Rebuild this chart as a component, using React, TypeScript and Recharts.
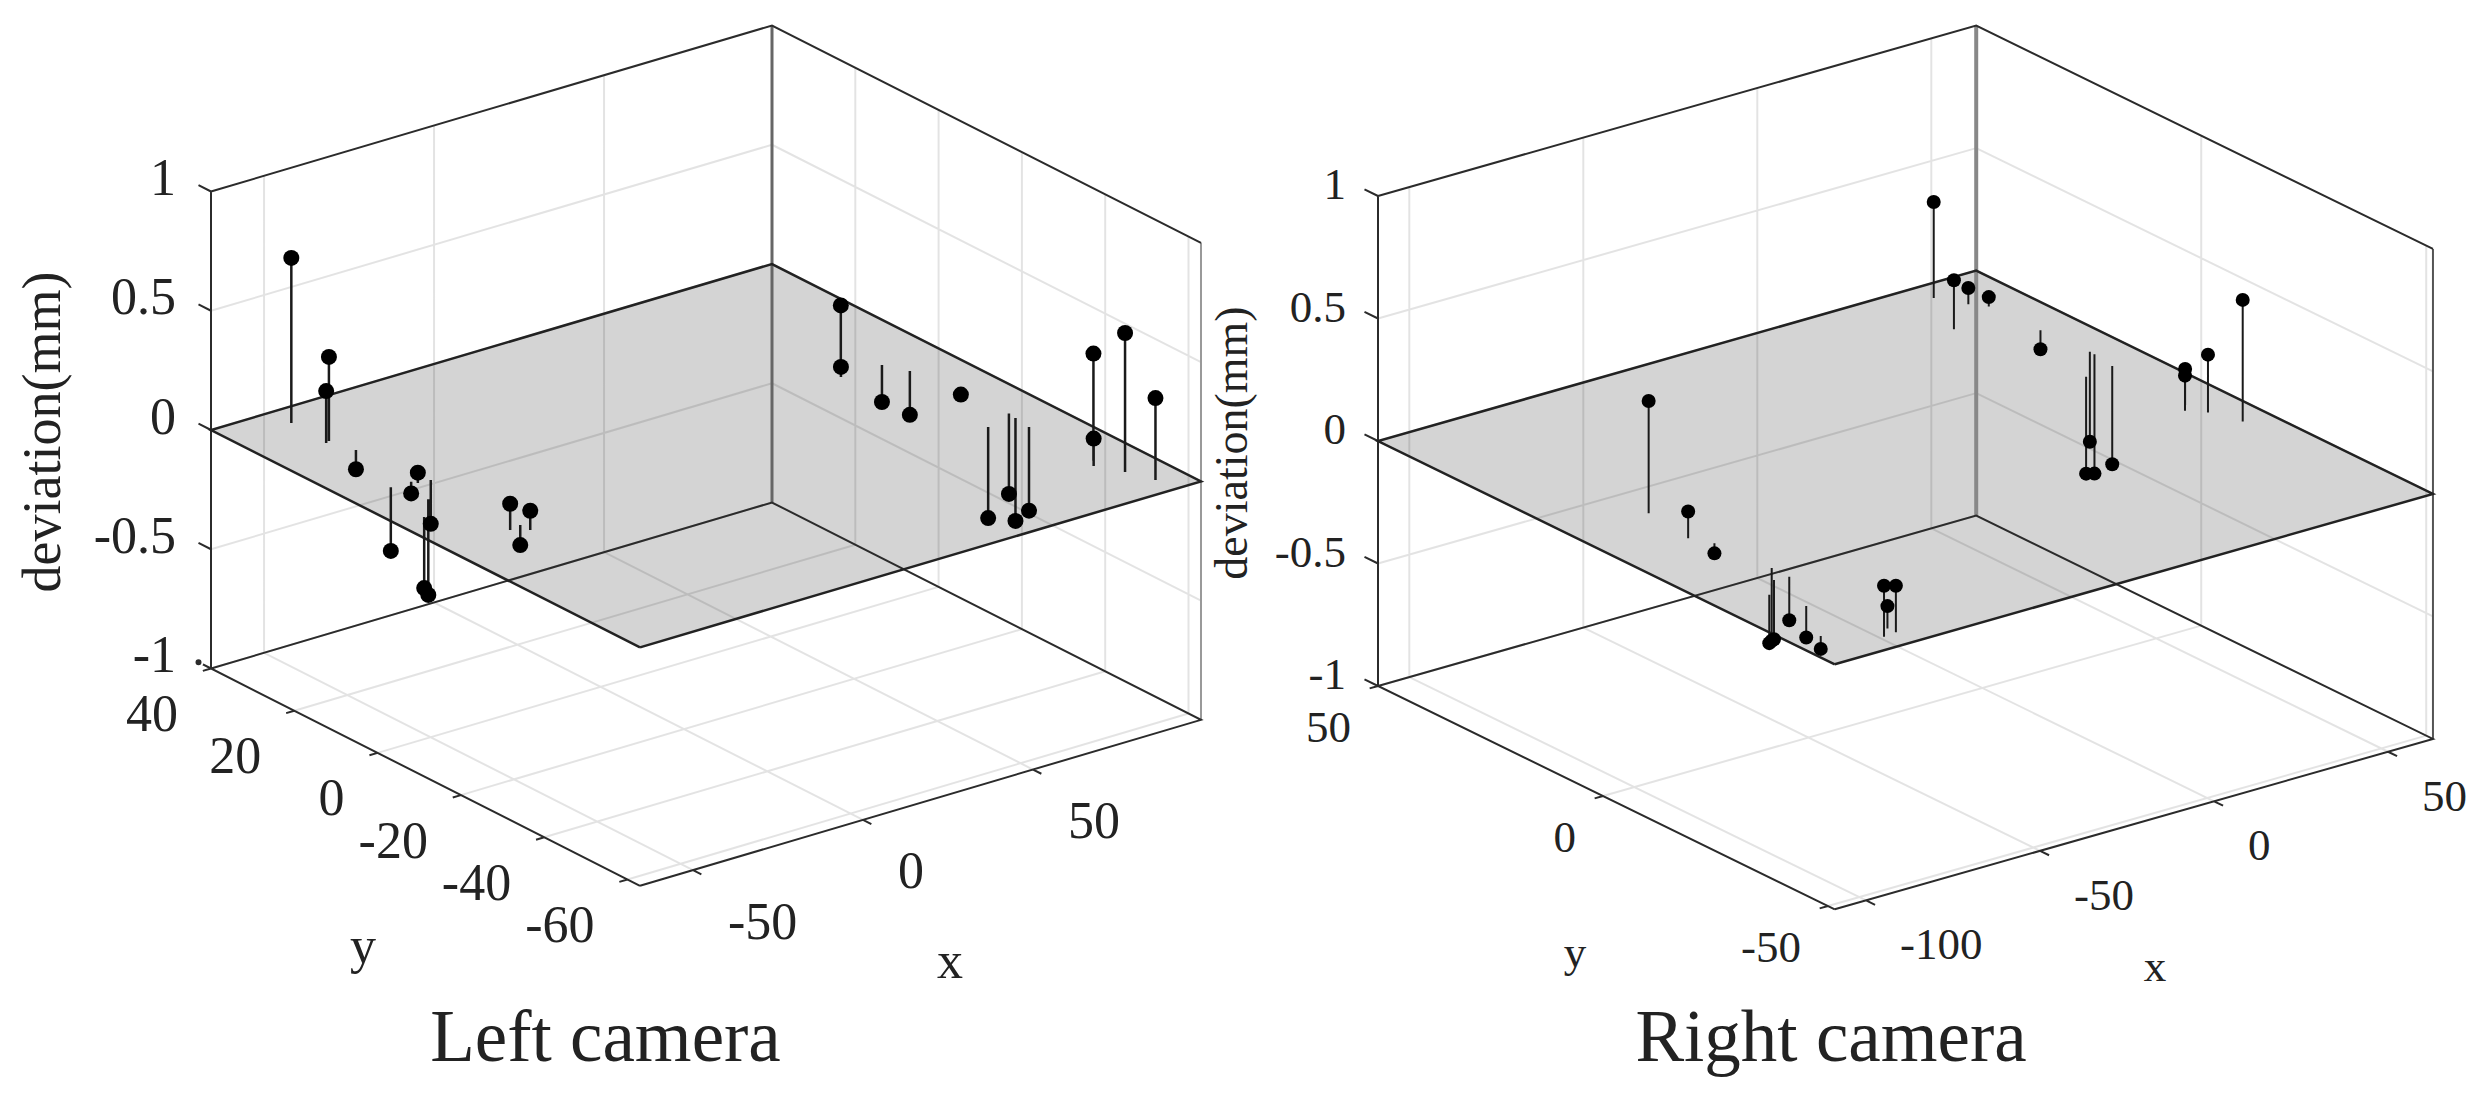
import { ComposedChart, Area, Line, XAxis, YAxis, ReferenceDot } from 'recharts';

const WIDTH = 2486;
const HEIGHT = 1105;
const FONT = '"Liberation Serif", "Times New Roman", serif';

const zTicks = [-1, -0.5, 0, 0.5, 1];

const leftXTicks = [-50, 0, 50];
const leftYTicks = [40, 20, 0, -20, -40, -60];
const leftX = [-48.1, -47.7, -49, -46, -46.6, -47.4, -53.2, -43.1, -57.9, -50.65, -46.7, -43, -43, 72.6, 70.8, 82.8, 85.8, 86.1, 79.8, 88.6, 88.2, 87.4, 87, 85.1, 88.7, 91.4];
const leftY = [35, 26.3, 25.9, 21.2, 5.85, 6.8, 6.95, 5.6, -4.9, 0.03, -16.4, -18.2, -15.8, 1.6, 0.1, 0.05, -4.2, -16.2, -27.9, -25.7, -27.6, -31.5, -47.3, -48.9, -53.5, -58.6];
const leftDev = [0.692, 0.352, 0.218, -0.081, 0.043, -0.049, -0.267, -0.184, -0.298, -0.401, 0.11, 0.081, -0.084, 0.279, 0.042, -0.155, -0.184, 0.006, -0.382, -0.337, -0.432, -0.351, 0.449, 0.115, 0.583, 0.344];

const rightXTicks = [-100, -50, 0, 50];
const rightYTicks = [50, 0, -50];
const rightX = [-86.7, -88.8, -85.9, -95.1, -84.7, -88.7, -84.7, -92.5, -101, -89.8, -86, -86.1, 45, 37.1, 49, 51.9, 52.4, 53.4, 43.4, 53.3, 52.2, 50.9, 48.8, 52.3, 55.3];
const rightY = [7.1, -3.3, -6.9, -26.2, -18.7, -22.3, -22.6, -32.4, -42.2, -47.6, -47.3, -45.5, 45.6, 35, 41, 38.7, 27.6, 17.4, 10.5, 16.3, 11.5, -5.7, -7.3, -9.7, -15.1];
const rightDev = [0.458, 0.109, -0.041, -0.197, -0.297, -0.242, -0.178, -0.129, -0.053, 0.208, 0.19, 0.091, 0.392, 0.2, 0.066, 0.038, -0.077, -0.367, -0.395, -0.487, -0.401, 0.147, 0.143, 0.236, 0.496];

const leftPanel = {
  id: 'left',
  title: 'Left camera',
  xs: leftX, ys: leftY, devs: leftDev, xTicks: leftXTicks, yTicks: leftYTicks,
  xMin: -65.6, xMax: 99.4, yMin: -63, yMax: 40,
  ox: 211, oy: 430, ex: [3.4, -1.006], ey: [4.165, 2.11], zUnit: 238.5,
  tickFont: 52, labelFont: 54, markerR: 8, stemWidth: 2.5,
  zLabelAt: [176, -14], yLabelAt: [-33, 45], xLabelAt: [35, 51],
  devLabel: [60, 432], xName: [950, 978], yName: [363, 963], titleAt: [605.5, 1061],
  backStyle: { stroke: '#666', width: 3 }, rightStyle: { stroke: '#999', width: 2 },
};

const rightPanel = {
  id: 'right',
  title: 'Right camera',
  xs: rightX, ys: rightY, devs: rightDev, xTicks: rightXTicks, yTicks: rightYTicks,
  xMin: -109, xMax: 62.9, yMin: -51.5, yMax: 50,
  ox: 1378, oy: 441, ex: [3.48, -0.991], ey: [4.5, 2.2], zUnit: 245,
  tickFont: 45, labelFont: 46, markerR: 7, stemWidth: 2,
  zLabelAt: [1346, -12], yLabelAt: [-27, 41], xLabelAt: [34, 44],
  devLabel: [1247, 443], xName: [2155, 981], yName: [1575, 967], titleAt: [1831, 1061],
  backStyle: { stroke: '#888', width: 4 }, rightStyle: { stroke: '#555', width: 2 },
};

type Panel = typeof leftPanel;

// orthographic view of the 3d axes box
const project = (p: Panel, x: number, y: number, z: number) => ({
  sx: p.ox + p.ex[0] * (x - p.xMin) + p.ey[0] * (p.yMax - y),
  sy: p.oy + p.ex[1] * (x - p.xMin) + p.ey[1] * (p.yMax - y) - p.zUnit * z,
});

type Pt = { sx: number; sy: number | null };

// several segments in one Line, split by null gaps
const segments = (list: Pt[][]) =>
  list.flatMap((seg) => [...seg, { sx: seg[seg.length - 1].sx, sy: null }]);

const label = (key: string, text: string, sx: number, sy: number, font: number, anchor = 'middle', rotate = false, central = true) => (
  <ReferenceDot
    key={key}
    x={sx}
    y={sy}
    r={0}
    shape={(s: { cx: number; cy: number }) => (
      <text
        x={s.cx}
        y={s.cy}
        fontFamily={FONT}
        fontSize={font}
        fill="#222"
        textAnchor={anchor}
        dominantBaseline={central ? 'central' : 'auto'}
        transform={rotate ? `rotate(-90 ${s.cx} ${s.cy})` : undefined}
      >
        {text}
      </text>
    )}
  />
);

const panelItems = (p: Panel) => {
  const P = (x: number, y: number, z: number) => project(p, x, y, z);
  const { xMin, xMax, yMin, yMax, id } = p;

  // grey z = 0 plane, as upper and lower edge over the horizontal position
  const L = P(xMin, yMax, 0);
  const F = P(xMin, yMin, 0);
  const B = P(xMax, yMax, 0);
  const R = P(xMax, yMin, 0);
  const at = (a: any, b: any, sx: number) => a.sy + ((b.sy - a.sy) * (sx - a.sx)) / (b.sx - a.sx);
  const plane = [
    { sx: L.sx, band: [L.sy, L.sy] },
    { sx: F.sx, band: [at(L, B, F.sx), F.sy] },
    { sx: B.sx, band: [B.sy, at(F, R, B.sx)] },
    { sx: R.sx, band: [R.sy, R.sy] },
  ];

  const grid = segments([
    ...zTicks.filter((z) => Math.abs(z) < 1).flatMap((z) => [
      [P(xMin, yMax, z), P(xMax, yMax, z)],
      [P(xMax, yMax, z), P(xMax, yMin, z)],
    ]),
    ...p.xTicks.flatMap((x) => [
      [P(x, yMax, -1), P(x, yMax, 1)],
      [P(x, yMax, -1), P(x, yMin, -1)],
    ]),
    ...p.yTicks.flatMap((y) => [
      [P(xMax, y, -1), P(xMax, y, 1)],
      [P(xMin, y, -1), P(xMax, y, -1)],
    ]),
  ]);

  const frame = segments([
    [P(xMin, yMax, 1), P(xMax, yMax, 1), P(xMax, yMin, 1)],
    [P(xMin, yMin, -1), P(xMin, yMax, -1), P(xMax, yMax, -1), P(xMax, yMin, -1), P(xMin, yMin, -1)],
    [P(xMin, yMax, -1), P(xMin, yMax, 1)],
    ...zTicks.map((z) => [P(xMin, yMax, z), P(xMin, yMax + 3, z)]),
    ...p.xTicks.map((x) => [P(x, yMin, -1), P(x, yMin - 2, -1)]),
    ...p.yTicks.map((y) => [P(xMin, y, -1), P(xMin - 2.4, y, -1)]),
  ]);

  const planeEdge = [P(xMin, yMin, 0), P(xMin, yMax, 0), P(xMax, yMax, 0), P(xMax, yMin, 0), P(xMin, yMin, 0)];
  const backEdge = [P(xMax, yMax, -1), P(xMax, yMax, 1)];
  const rightEdge = [P(xMax, yMin, -1), P(xMax, yMin, 1)];

  const stems = segments(p.xs.map((x, i) => [P(x, p.ys[i], 0), P(x, p.ys[i], p.devs[i])]));
  const markers = p.xs.map((x, i) => P(x, p.ys[i], p.devs[i]));

  return [
    <Area key={`${id}-plane`} data={plane} dataKey="band" type="linear" fill="#d4d4d4" fillOpacity={1} stroke="none" dot={false} isAnimationActive={false} />,
    <Line key={`${id}-gridlines`} data={grid} dataKey="sy" stroke="#000" strokeOpacity={0.11} strokeWidth={2} dot={false} isAnimationActive={false} />,
    <Line key={`${id}-back`} data={backEdge} dataKey="sy" stroke={p.backStyle.stroke} strokeWidth={p.backStyle.width} dot={false} isAnimationActive={false} />,
    <Line key={`${id}-right`} data={rightEdge} dataKey="sy" stroke={p.rightStyle.stroke} strokeWidth={p.rightStyle.width} dot={false} isAnimationActive={false} />,
    <Line key={`${id}-frame`} data={frame} dataKey="sy" stroke="#2b2b2b" strokeWidth={2} dot={false} isAnimationActive={false} />,
    <Line key={`${id}-plane-edge`} data={planeEdge} dataKey="sy" stroke="#222" strokeWidth={2.5} dot={false} isAnimationActive={false} />,
    <Line key={`${id}-stems`} data={stems} dataKey="sy" stroke="#1a1a1a" strokeWidth={p.stemWidth} dot={false} isAnimationActive={false} />,
    <Line key={`${id}-markers`} data={markers} dataKey="sy" stroke="none" dot={{ r: p.markerR, fill: '#000', stroke: 'none' }} isAnimationActive={false} />,
    ...zTicks.map((z) => label(`${id}-z${z}`, String(z), p.zLabelAt[0], P(xMin, yMax, z).sy + p.zLabelAt[1], p.tickFont, 'end')),
    ...p.yTicks.map((y) => {
      const t = P(xMin, y, -1);
      return label(`${id}-y${y}`, String(y), t.sx + p.yLabelAt[0], t.sy + p.yLabelAt[1], p.tickFont, 'end');
    }),
    ...p.xTicks.map((x) => {
      const t = P(x, yMin, -1);
      return label(`${id}-x${x}`, String(x), t.sx + p.xLabelAt[0], t.sy + p.xLabelAt[1], p.tickFont, 'start');
    }),
    label(`${id}-dev`, 'deviation(mm)', p.devLabel[0], p.devLabel[1], p.labelFont, 'middle', true, false),
    label(`${id}-xname`, 'x', p.xName[0], p.xName[1], p.tickFont, 'middle', false, false),
    label(`${id}-yname`, 'y', p.yName[0], p.yName[1], p.tickFont, 'middle', false, false),
    label(`${id}-title`, p.title, p.titleAt[0], p.titleAt[1], 73, 'middle', false, false),
  ];
};

export default function App() {
  return (
    <div style={{ position: 'absolute', left: 0, top: 0, width: WIDTH, height: HEIGHT, background: '#fff' }}>
      <ComposedChart width={WIDTH} height={HEIGHT} margin={{ top: 0, right: 0, bottom: 0, left: 0 }}>
        <XAxis dataKey="sx" type="number" domain={[0, WIDTH]} hide />
        <YAxis type="number" domain={[0, HEIGHT]} reversed hide />
        {panelItems(leftPanel)}
        {panelItems(rightPanel)}
      </ComposedChart>
    </div>
  );
}
